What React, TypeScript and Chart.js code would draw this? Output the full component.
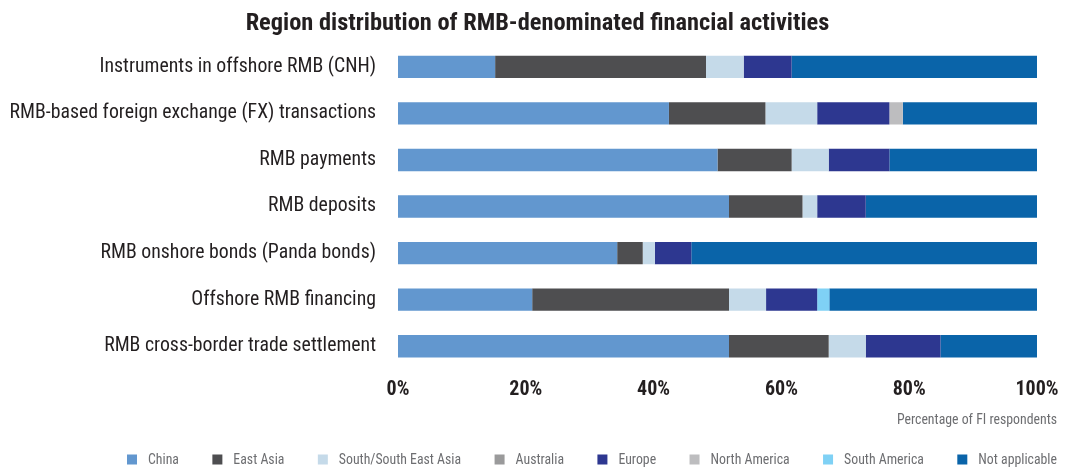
import React, { useEffect, useRef } from "react";
import { Chart, registerables } from "chart.js";

Chart.register(...registerables);

const TITLE = "Region distribution of RMB-denominated financial activities";
const AXIS_TITLE = "Percentage of FI respondents";

const categories = [
  "Instruments in offshore RMB (CNH)",
  "RMB-based foreign exchange (FX) transactions",
  "RMB payments",
  "RMB deposits",
  "RMB onshore bonds (Panda bonds)",
  "Offshore RMB financing",
  "RMB cross-border trade settlement",
];

const seriesNames = [
  "China",
  "East Asia",
  "South/South East Asia",
  "Australia",
  "Europe",
  "North America",
  "South America",
  "Not applicable",
];

// Share of respondents (%) per activity, top to bottom
const china = [15.2, 42.4, 50.0, 51.8, 34.3, 21.0, 51.8];
const eastAsia = [33.0, 15.1, 11.6, 11.5, 4.0, 30.8, 15.6];
const southSouthEastAsia = [5.9, 8.1, 5.8, 2.3, 1.9, 5.8, 5.8];
const australia = [0, 0, 0, 0, 0, 0, 0];
const europe = [7.5, 11.3, 9.5, 7.6, 5.7, 8.0, 11.7];
const northAmerica = [0, 2.1, 0, 0, 0, 0, 0];
const southAmerica = [0, 0, 0, 0, 0, 1.9, 0];
const notApplicable = [38.4, 21.0, 23.1, 26.8, 54.1, 32.5, 15.1];

const seriesValues = [
  china,
  eastAsia,
  southSouthEastAsia,
  australia,
  europe,
  northAmerica,
  southAmerica,
  notApplicable,
];

const seriesColors = [
  "#6297cf",
  "#4e4e50",
  "#c5dae9",
  "#9a9a9b",
  "#2d3790",
  "#bdbdbf",
  "#7fd1f5",
  "#0a64a9",
];

const xTickValues = [0, 20, 40, 60, 80, 100];

const FONT =
  "'Roboto Condensed', 'Liberation Sans Narrow', 'DejaVu Sans Condensed', sans-serif";
const DARK = "#231f20";
const GREY = "#6d6e71";

// Axis caption and a single-row legend drawn under the plot area
const footerPlugin = {
  id: "footer",
  afterDraw(chart: any) {
    const { ctx, chartArea } = chart;
    const right = chartArea.right + 20;
    ctx.save();
    ctx.font = `13.8px ${FONT}`;
    ctx.fillStyle = GREY;
    ctx.textBaseline = "middle";
    ctx.textAlign = "right";
    ctx.fillText(AXIS_TITLE, right, chartArea.bottom + 51);

    const box = 10;
    const textGap = 11;
    const left = 119;
    const items = chart.data.datasets.map((ds: any) => ({
      label: ds.label as string,
      color: ds.backgroundColor as string,
    }));
    const widths = items.map(
      (it: any) => box + textGap + ctx.measureText(it.label).width
    );
    const total = widths.reduce((a: number, b: number) => a + b, 0);
    const gap = (right - left - total) / (items.length - 1);
    const y = chartArea.bottom + 90;
    let x = left;
    ctx.textAlign = "left";
    items.forEach((it: any, i: number) => {
      ctx.fillStyle = it.color;
      ctx.fillRect(x, y - box / 2, box, box);
      ctx.fillStyle = GREY;
      ctx.fillText(it.label, x + box + textGap, y + 1);
      x += widths[i] + gap;
    });
    ctx.restore();
  },
};

export default function App() {
  const canvasRef = useRef<HTMLCanvasElement | null>(null);

  useEffect(() => {
    if (!canvasRef.current) return;
    const chart = new Chart(canvasRef.current, {
      type: "bar",
      data: {
        labels: categories,
        datasets: seriesNames.map((name, i) => ({
          label: name,
          data: seriesValues[i],
          backgroundColor: seriesColors[i],
          borderWidth: 0,
          barPercentage: 0.48,
          categoryPercentage: 1,
        })),
      },
      options: {
        animation: false,
        responsive: true,
        maintainAspectRatio: false,
        indexAxis: "y",
        layout: { padding: { top: 0, right: 0, bottom: 60.5, left: 0 } },
        plugins: {
          legend: { display: false },
          tooltip: { enabled: false },
          title: {
            display: true,
            text: TITLE,
            color: DARK,
            font: { family: FONT, size: 24.4, weight: "bold" },
            padding: { top: 1, bottom: 5.3 },
          },
        },
        scales: {
          x: {
            stacked: true,
            min: 0,
            max: 100,
            afterBuildTicks: (scale: any) => {
              scale.ticks = xTickValues.map((v) => ({ value: v }));
            },
            grid: { display: false, drawTicks: false },
            border: { display: false },
            ticks: {
              callback: (v: any) => `${v}%`,
              color: DARK,
              font: { family: FONT, size: 20, weight: "bold" },
              padding: 8,
              maxRotation: 0,
            },
          },
          y: {
            stacked: true,
            grid: { display: false, drawTicks: false },
            border: { display: false },
            ticks: {
              color: DARK,
              font: { family: FONT, size: 19.8 },
              padding: 22,
            },
            afterFit: (scale: any) => {
              scale.width = 390;
            },
          },
          // empty right-hand gutter so the plot ends short of the canvas edge
          gutter: {
            type: "category",
            position: "right",
            labels: categories,
            grid: { display: false, drawTicks: false },
            border: { display: false },
            ticks: { display: false },
            afterFit: (scale: any) => {
              scale.width = 30;
            },
          },
        },
      },
      plugins: [footerPlugin],
    });
    return () => chart.destroy();
  }, []);

  return (
    <div style={{ position: "relative", height: "462px" }}>
      <canvas ref={canvasRef} />
    </div>
  );
}
